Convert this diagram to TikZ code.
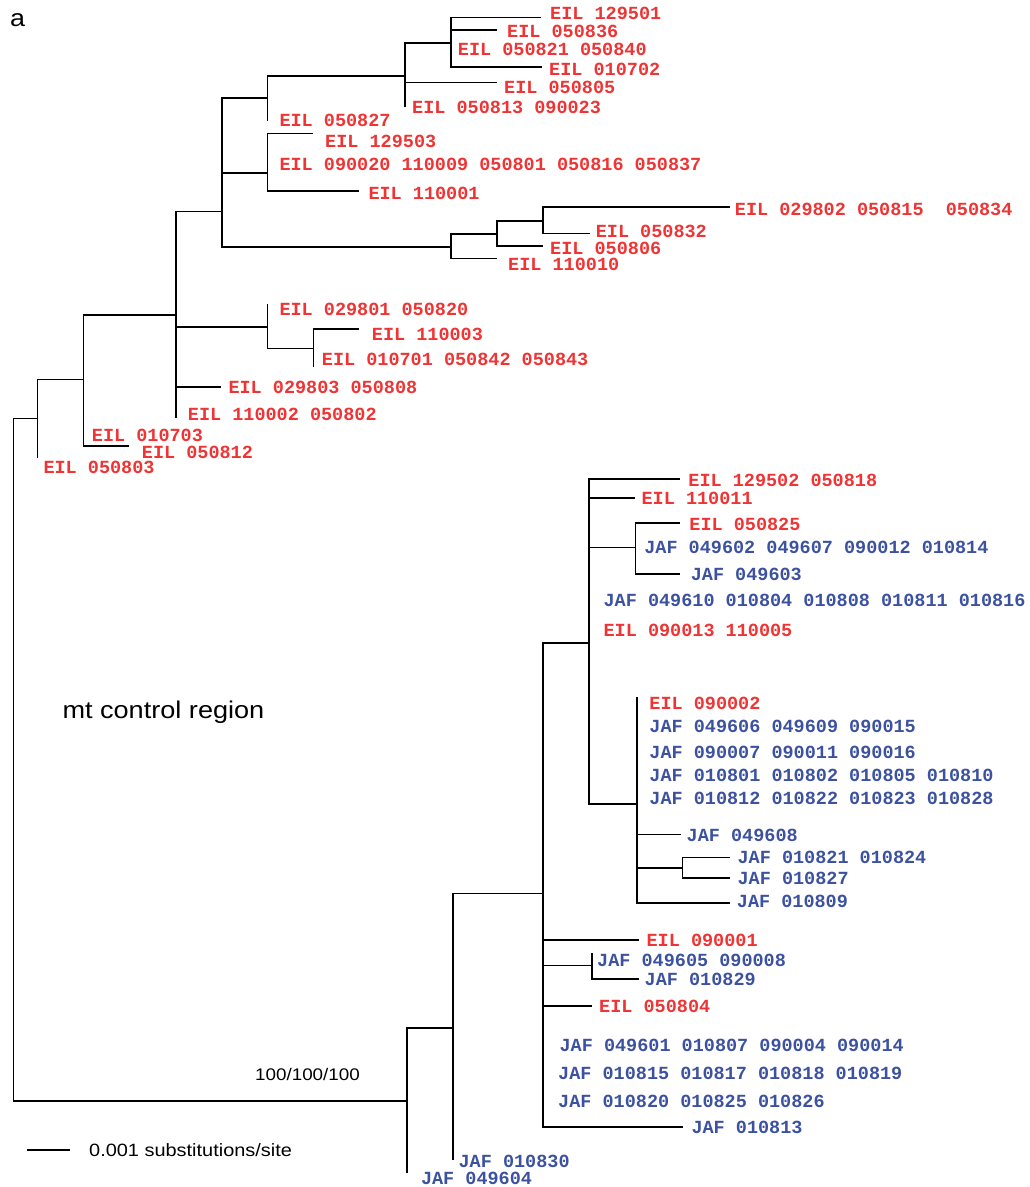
\documentclass[tikz,border=0pt]{standalone}
\usepackage{fontspec}
\newfontfamily\treefont{Liberation Mono}
\newfontfamily\notefont[FakeStretch=1.12]{Liberation Sans}
\definecolor{eilred}{RGB}{238,52,52}
\definecolor{jafblue}{RGB}{60,82,160}

\begin{document}
\begin{tikzpicture}[
            x = 1pt, y = -1pt,
            br/.style = {draw, line width = 1.6pt},
            taxon/.style = {anchor = base west, inner sep = 0pt,
                font = \treefont\bfseries\fontsize{18.5}{20}\selectfont},
            eil/.style = {taxon, text = eilred},
            jaf/.style = {taxon, text = jafblue},
            note/.style = {anchor = base west, inner sep = 0pt,
                font = \notefont\fontsize{#1}{#1}\selectfont},
        ]
        \useasboundingbox (0,0) rectangle (1029,1187);

        % inner nodes, each at the point where its stem joins
        \coordinate (r0) at (13.3,760);
        \coordinate (n13) at (37.3,418.3);
        \coordinate (n10) at (83.3,379.3);
        \coordinate (n6) at (175.7,315);
        \coordinate (n4) at (221.7,211.3);
        \coordinate (n3) at (267.3,98);
        \coordinate (n2) at (405,76);
        \coordinate (n1) at (451,42.7);
        \coordinate (n5) at (267.3,172.7);
        \coordinate (n7) at (450.7,246.7);
        \coordinate (n8) at (497,234);
        \coordinate (n9) at (543,220.7);
        \coordinate (n11) at (267.3,326.7);
        \coordinate (n12) at (313.3,348.3);
        \coordinate (n14) at (407,1100.7);
        \coordinate (n15) at (453,1027.7);
        \coordinate (n16) at (543,893.3);
        \coordinate (n17) at (591.7,965.3);
        \coordinate (n18) at (588.8,642.7);
        \coordinate (n19) at (635.6,547.3);
        \coordinate (n20) at (636.7,804);
        \coordinate (n21) at (682.4,867.7);

        % tips
        \coordinate (t129501) at (541,17.3);
        \coordinate (t050836) at (497,30);
        \coordinate (t010702) at (542,66.7);
        \coordinate (t050805) at (497,82.3);
        \coordinate (t050813) at (405,107.3);
        \coordinate (t050827) at (267.3,120.7);
        \coordinate (t129503) at (313.3,133.3);
        \coordinate (t110001) at (359.3,190.7);
        \coordinate (t029802) at (729.8,206.7);
        \coordinate (t050832) at (589.5,233.3);
        \coordinate (t050806) at (543,246);
        \coordinate (t110010) at (497,258.3);
        \coordinate (t029801) at (267.3,304);
        \coordinate (t110003) at (359,329);
        \coordinate (t010701) at (313.3,367.3);
        \coordinate (t029803) at (221,386.7);
        \coordinate (t110002) at (175.7,418.3);
        \coordinate (t050812) at (129,446);
        \coordinate (t050803) at (37.3,458.3);
        \coordinate (t129502) at (679.7,479);
        \coordinate (t110011) at (635,497.7);
        \coordinate (t050825) at (680.4,522.7);
        \coordinate (t049603) at (680.4,574);
        \coordinate (t090002) at (636.7,696.7);
        \coordinate (t049608) at (681.4,834.3);
        \coordinate (t010821) at (729.6,857.3);
        \coordinate (t010827) at (729.6,877.7);
        \coordinate (t010809) at (729.6,902.7);
        \coordinate (t090001) at (638.5,940);
        \coordinate (t049605) at (591.7,953.3);
        \coordinate (t010829) at (638.5,978.7);
        \coordinate (t050804) at (591.7,1005.7);
        \coordinate (t010813) at (682.7,1126.7);
        \coordinate (t010830) at (453,1160);
        \coordinate (t049604) at (407,1173.3);

        % branches
        \path[br] (r0) |- (n13);
        \path[br] (r0) |- (n14);
        \path[br] (n13) |- (n10);
        \path[br] (n13) |- (t050803);
        \path[br] (n10) |- (n6);
        \path[br] (n10) |- (t050812);
        \path[br] (n6) |- (n4);
        \path[br] (n6) |- (n11);
        \path[br] (n6) |- (t029803);
        \path[br] (n6) |- (t110002);
        \path[br] (n4) |- (n3);
        \path[br] (n4) |- (n5);
        \path[br] (n4) |- (n7);
        \path[br] (n3) |- (n2);
        \path[br] (n3) |- (t050827);
        \path[br] (n2) |- (n1);
        \path[br] (n2) |- (t050805);
        \path[br] (n2) |- (t050813);
        \path[br] (n1) |- (t129501);
        \path[br] (n1) |- (t050836);
        \path[br] (n1) |- (t010702);
        \path[br] (n5) |- (t129503);
        \path[br] (n5) |- (t110001);
        \path[br] (n7) |- (n8);
        \path[br] (n7) |- (t110010);
        \path[br] (n8) |- (n9);
        \path[br] (n8) |- (t050806);
        \path[br] (n9) |- (t029802);
        \path[br] (n9) |- (t050832);
        \path[br] (n11) |- (t029801);
        \path[br] (n11) |- (n12);
        \path[br] (n12) |- (t110003);
        \path[br] (n12) |- (t010701);
        \path[br] (n14) |- (n15);
        \path[br] (n14) |- (t049604);
        \path[br] (n15) |- (n16);
        \path[br] (n15) |- (t010830);
        \path[br] (n16) |- (n18);
        \path[br] (n16) |- (t090001);
        \path[br] (n16) |- (n17);
        \path[br] (n16) |- (t050804);
        \path[br] (n16) |- (t010813);
        \path[br] (n17) |- (t049605);
        \path[br] (n17) |- (t010829);
        \path[br] (n18) |- (t129502);
        \path[br] (n18) |- (t110011);
        \path[br] (n18) |- (n19);
        \path[br] (n18) |- (n20);
        \path[br] (n19) |- (t050825);
        \path[br] (n19) |- (t049603);
        \path[br] (n20) |- (t090002);
        \path[br] (n20) |- (t049608);
        \path[br] (n20) |- (n21);
        \path[br] (n20) |- (t010809);
        \path[br] (n21) |- (t010821);
        \path[br] (n21) |- (t010827);

        % labels
        \node (l129501) [eil] at (550,19.3) {EIL 129501};
        \node (l050836) [eil] at (507,37.3) {EIL 050836};
        \node (l050821) [eil] at (457.7,55) {EIL 050821 050840};
        \node (l010702) [eil] at (549,75.3) {EIL 010702};
        \node (l050805) [eil] at (504,93.3) {EIL 050805};
        \node (l050813) [eil] at (412,113.3) {EIL 050813 090023};
        \node (l050827) [eil] at (279.3,126) {EIL 050827};
        \node (l129503) [eil] at (325,147.3) {EIL 129503};
        \node (l090020) [eil] at (279.3,170.7) {EIL 090020 110009 050801 050816 050837};
        \node (l110001) [eil] at (368.3,199.3) {EIL 110001};
        \node (l029802) [eil] at (734.7,215) {EIL 029802 050815\ \ 050834};
        \node (l050832) [eil] at (595.6,237) {EIL 050832};
        \node (l050806) [eil] at (550,254) {EIL 050806};
        \node (l110010) [eil] at (508,270) {EIL 110010};
        \node (l029801) [eil] at (279.3,315.7) {EIL 029801 050820};
        \node (l110003) [eil] at (371.7,340.7) {EIL 110003};
        \node (l010701) [eil] at (321.7,365) {EIL 010701 050842 050843};
        \node (l029803) [eil] at (228.3,393.3) {EIL 029803 050808};
        \node (l110002) [eil] at (187.7,420) {EIL 110002 050802};
        \node (l010703) [eil] at (91.7,441.7) {EIL 010703};
        \node (l050812) [eil] at (141.7,458.3) {EIL 050812};
        \node (l050803) [eil] at (43.3,473.3) {EIL 050803};
        \node (l129502) [eil] at (688.2,486.7) {EIL 129502 050818};
        \node (l110011) [eil] at (641.4,504.3) {EIL 110011};
        \node (l050825) [eil] at (689.2,530) {EIL 050825};
        \node (l049602) [jaf] at (644.1,553.3) {JAF 049602 049607 090012 010814};
        \node (l049603) [jaf] at (690.6,580) {JAF 049603};
        \node (l049610) [jaf] at (603.4,606.7) {JAF 049610 010804 010808 010811 010816};
        \node (l090013) [eil] at (603.4,636.7) {EIL 090013 110005};
        \node (l090002) [eil] at (649.2,709.3) {EIL 090002};
        \node (l049606) [jaf] at (649.2,732.3) {JAF 049606 049609 090015};
        \node (l090007) [jaf] at (649.2,758.3) {JAF 090007 090011 090016};
        \node (l010801) [jaf] at (649.2,781.7) {JAF 010801 010802 010805 010810};
        \node (l010812) [jaf] at (649.2,804.3) {JAF 010812 010822 010823 010828};
        \node (l049608) [jaf] at (686.5,841.7) {JAF 049608};
        \node (l010821) [jaf] at (737.4,863.3) {JAF 010821 010824};
        \node (l010827) [jaf] at (737.4,884) {JAF 010827};
        \node (l010809) [jaf] at (736.7,907.3) {JAF 010809};
        \node (l090001) [eil] at (646.4,946) {EIL 090001};
        \node (l049605) [jaf] at (597,966) {JAF 049605 090008};
        \node (l010829) [jaf] at (644.5,985.3) {JAF 010829};
        \node (l050804) [eil] at (599,1012.3) {EIL 050804};
        \node (l049601) [jaf] at (559.4,1051.7) {JAF 049601 010807 090004 090014};
        \node (l010815) [jaf] at (558,1079.3) {JAF 010815 010817 010818 010819};
        \node (l010820) [jaf] at (558,1107.7) {JAF 010820 010825 010826};
        \node (l010813) [jaf] at (691.3,1133.3) {JAF 010813};
        \node (l010830) [jaf] at (458.4,1167.3) {JAF 010830};
        \node (l049604) [jaf] at (420.8,1184.6) {JAF 049604};

        % panel letter, title, support and scale
        \node (panel) [note=24] at (10,26.7) {a};
        \node (title) [note=24.2] at (62.3,718.3) {mt control region};
        \node (support) [note=16.8] at (255,1080) {100/100/100};
        \coordinate (sb1) at (27,1149.7);
        \coordinate (sb2) at (70,1149.7);
        \path[br] (sb1) -- (sb2);
        \node (scale) [note=17.8] at (89,1156) {0.001 substitutions/site};
    \end{tikzpicture}
\end{document}
